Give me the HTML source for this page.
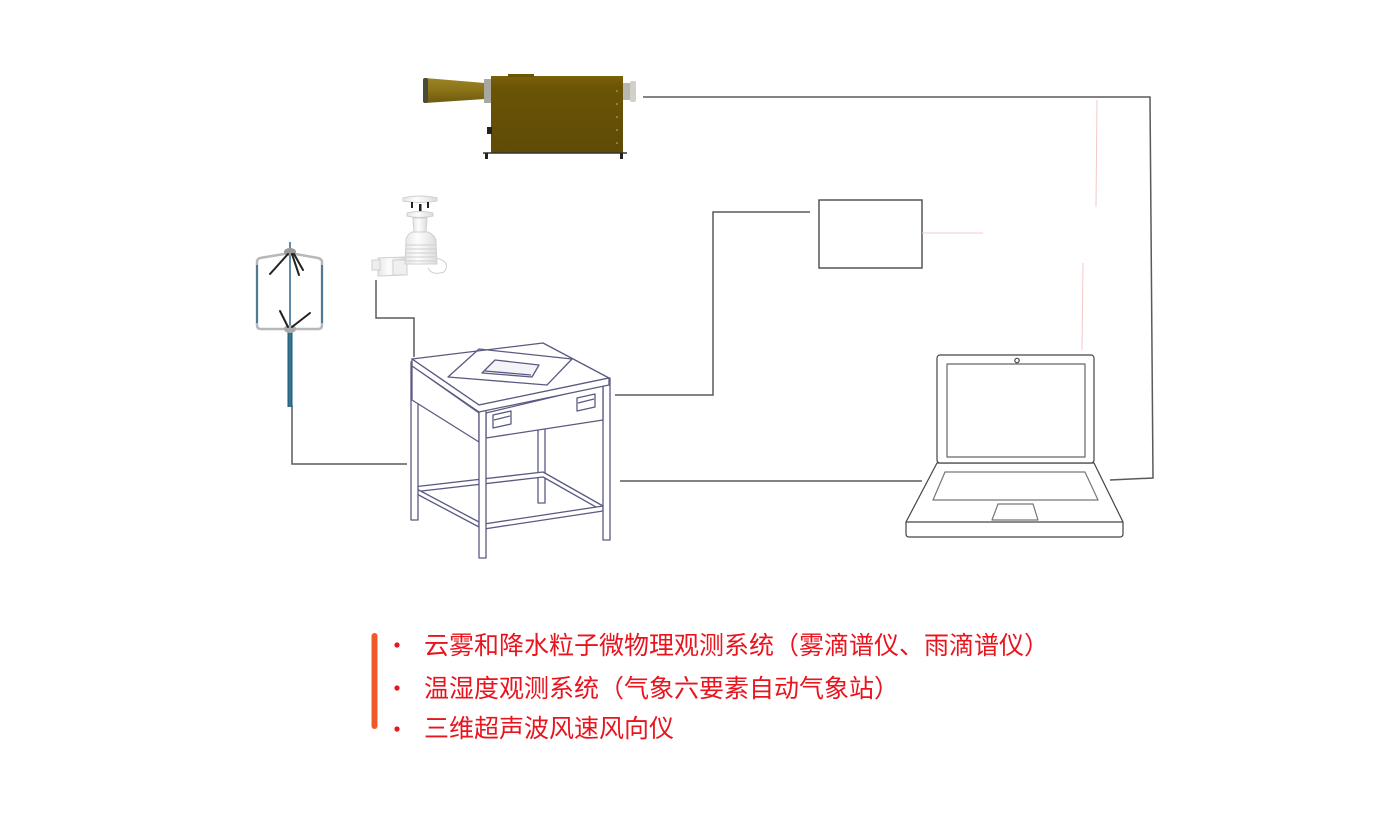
<!DOCTYPE html>
<html><head><meta charset="utf-8"><style>
html,body{margin:0;padding:0;background:#fff;}
body{width:1400px;height:835px;overflow:hidden;position:relative;}
svg{position:absolute;left:0;top:0;}
.t{font-family:"Liberation Sans","Noto Sans CJK SC",sans-serif;font-size:25px;fill:#e8141e;}
</style></head><body>
<svg width="1400" height="835" viewBox="0 0 1400 835" xmlns="http://www.w3.org/2000/svg">
<defs>
<linearGradient id="horn" x1="0" y1="0" x2="0" y2="1">
<stop offset="0" stop-color="#9c8526"/><stop offset="0.5" stop-color="#8a7218"/><stop offset="1" stop-color="#6e5a10"/>
</linearGradient>
<linearGradient id="box" x1="0" y1="0" x2="0" y2="1">
<stop offset="0" stop-color="#7a6208"/><stop offset="0.15" stop-color="#6a5406"/><stop offset="1" stop-color="#5f4b05"/>
</linearGradient>
<linearGradient id="pole" x1="0" y1="0" x2="1" y2="0">
<stop offset="0" stop-color="#1f5270"/><stop offset="0.5" stop-color="#3a7ea0"/><stop offset="1" stop-color="#1f5270"/>
</linearGradient>
<linearGradient id="ws" x1="0" y1="0" x2="1" y2="0">
<stop offset="0" stop-color="#e6e6e6"/><stop offset="0.4" stop-color="#fdfdfd"/><stop offset="1" stop-color="#dcdcdc"/>
</linearGradient>
</defs>

<!-- connectors -->
<g fill="none" stroke="#5a5a5a" stroke-width="1.5">
<polyline points="643,97 1150,97 1153,478 1110,480"/>
<polyline points="810,212 713,212 713,395 615,395"/>
<line x1="620" y1="481" x2="922" y2="481"/>
<polyline points="292,405 292,464 407,464"/>
<polyline points="376,280 376,318 414,318 414,357"/>
<rect x="819" y="200" width="103" height="68" stroke="#555"/>
</g>
<g stroke="#f4c8c8" stroke-width="1" fill="none">
<line x1="922" y1="233" x2="983" y2="233"/>
<line x1="1097" y1="100" x2="1096" y2="207"/>
<line x1="1083" y1="263" x2="1082" y2="350"/>
</g>

<!-- fog spectrometer -->
<g>
<path d="M425,78 L485,83 L485,99 L425,103 Z" fill="url(#horn)"/>
<rect x="423" y="78" width="5" height="25" rx="2" fill="#4a4a3a"/>
<rect x="484" y="79" width="8" height="24" fill="#a8a8a0"/>
<rect x="491" y="76" width="132" height="77" fill="url(#box)"/>
<rect x="508" y="74" width="26" height="3" fill="#6a5406"/>
<rect x="623" y="83" width="8" height="17" fill="#b8b8b0"/>
<rect x="630" y="81" width="6" height="21" rx="2" fill="#d0d0c8"/>
<rect x="487" y="127" width="5" height="7" fill="#222"/>
<line x1="483" y1="153" x2="627" y2="153" stroke="#333" stroke-width="1.5"/>
<rect x="485" y="153" width="3" height="6" fill="#222"/>
<rect x="620" y="153" width="3" height="6" fill="#222"/>
<g fill="#c8b870">
<circle cx="617" cy="91" r="0.8"/><circle cx="617" cy="104" r="0.8"/><circle cx="617" cy="117" r="0.8"/><circle cx="617" cy="130" r="0.8"/><circle cx="617" cy="143" r="0.8"/>
</g>
</g>

<!-- anemometer -->
<g>
<rect x="287.5" y="330" width="5" height="77" fill="url(#pole)"/>
<line x1="290" y1="242" x2="290" y2="330" stroke="#2a6688" stroke-width="1.5"/>
<path d="M290,253 L260,258 Q257,259 257,262 L257,325 Q257,329 261,329 L290,329 M290,253 L318,258 Q322,259 322,262 L322,325 Q322,329 318,329 L290,329" fill="none" stroke="#b8b8b8" stroke-width="2.5"/>
<line x1="257" y1="265" x2="257" y2="323" stroke="#2a6688" stroke-width="1.5"/>
<line x1="322" y1="265" x2="322" y2="323" stroke="#2a6688" stroke-width="1.5"/>
<ellipse cx="290" cy="252" rx="6" ry="4" fill="#999"/>
<ellipse cx="290" cy="329" rx="6" ry="4" fill="#aaa"/>
<g stroke="#222" stroke-width="2" stroke-linecap="round">
<line x1="288" y1="254" x2="270" y2="274"/>
<line x1="292" y1="254" x2="299" y2="275"/>
<line x1="294" y1="254" x2="303" y2="270"/>
<line x1="288" y1="327" x2="280" y2="311"/>
<line x1="292" y1="327" x2="310" y2="313"/>
</g>
</g>

<!-- weather station -->
<g stroke="#cfcfcf" stroke-width="1" fill="url(#ws)">
<path d="M378,258 L404,257 L405,275 L378,276 Z"/>
<rect x="372" y="260" width="8" height="10" fill="#eee"/>
<rect x="393" y="260" width="14" height="15" fill="#f0f0f0"/>
<path d="M436,258 Q452,262 444,272 Q432,276 428,268" fill="none"/>
<path d="M406,242 Q405,236 412,232 L428,232 Q436,236 436,242 L437,264 L405,264 Z"/>
<line x1="406" y1="245" x2="436" y2="245"/><line x1="406" y1="249" x2="436" y2="249"/><line x1="406" y1="253" x2="436" y2="253"/><line x1="406" y1="257" x2="436" y2="257"/><line x1="406" y1="261" x2="436" y2="261"/>
<path d="M413,218 L427,218 L426,232 L414,232 Z"/>
<path d="M407,213 Q420,210 433,213 L433,216 Q420,219 407,216 Z"/>
<path d="M403,198 Q420,194 437,198 L437,201 Q420,204 403,201 Z"/>
</g>
<g fill="#222"><rect x="411" y="202" width="2" height="6"/><rect x="419" y="204" width="2.5" height="7"/><rect x="427" y="202" width="2" height="6"/></g>

<!-- table -->
<g fill="#fff" stroke="#5a5a82" stroke-width="1.3" stroke-linejoin="round">
<rect x="538" y="418" width="7" height="85"/>
<path d="M413,487 L543,472 L603,506 L603,511 L543,477 L413,492 Z"/>
<path d="M413,487 L479,522 L479,527 L413,492 Z"/>
<path d="M484,524 L603,506 L603,511 L484,529 Z"/>
<rect x="411" y="362" width="7" height="158"/>
<rect x="603" y="378" width="7" height="162"/>
<path d="M412,359 L479,405 L479,442 L412,400 Z"/>
<line x1="418" y1="370" x2="479" y2="413"/>
<path d="M486,413 L603,385 L603,420 L486,438 Z"/>
<rect x="479" y="405" width="7" height="153"/>
<path d="M412,359 L543,343 L609,378 L479,405 Z"/>
<path d="M412,359 L412,366 L479,412 L609,385 L609,378 L479,405 Z"/>
<path d="M448,377 L479,349 L572,359 L547,385 Z" fill="none"/>
<path d="M482,373 L495,360 L539,365 L532,377 Z" fill="#f4f4f8"/>
<line x1="485" y1="371" x2="531" y2="375"/>
<path d="M493,415 L511,411 L511,424 L493,428 Z"/>
<line x1="494" y1="420" x2="510" y2="416"/>
<path d="M577,398 L595,394 L595,407 L577,411 Z"/>
<line x1="578" y1="403" x2="594" y2="399"/>
</g>

<!-- laptop -->
<g fill="#fff" stroke="#444" stroke-width="1.2" stroke-linejoin="round">
<path d="M906,522 L937,463 L1094,463 L1123,522 L1123,534 Q1123,537 1120,537 L909,537 Q906,537 906,534 Z"/>
<line x1="906" y1="522" x2="1123" y2="522"/>
<rect x="937" y="355" width="157" height="108" rx="3"/>
<rect x="947" y="364" width="138" height="93" stroke="#666"/>
<circle cx="1017" cy="360.5" r="2.2"/>
<path d="M945,472 L1085,472 L1098,500 L933,500 Z" stroke="#777"/>
<path d="M998,504 L1033,504 L1038,520 L992,520 Z" stroke="#777"/>
</g>

<!-- legend -->
<rect x="371.5" y="633" width="6" height="96" rx="3" fill="#f05a28"/>
<g fill="#e8141e">
<circle cx="397" cy="645" r="2.6"/>
<circle cx="397" cy="688" r="2.6"/>
<circle cx="397" cy="729" r="2.6"/>
</g>
<text class="t" x="424" y="654">云雾和降水粒子微物理观测系统（雾滴谱仪、雨滴谱仪）</text>
<text class="t" x="424" y="697">温湿度观测系统（气象六要素自动气象站）</text>
<text class="t" x="424" y="737">三维超声波风速风向仪</text>
</svg>
</body></html>
